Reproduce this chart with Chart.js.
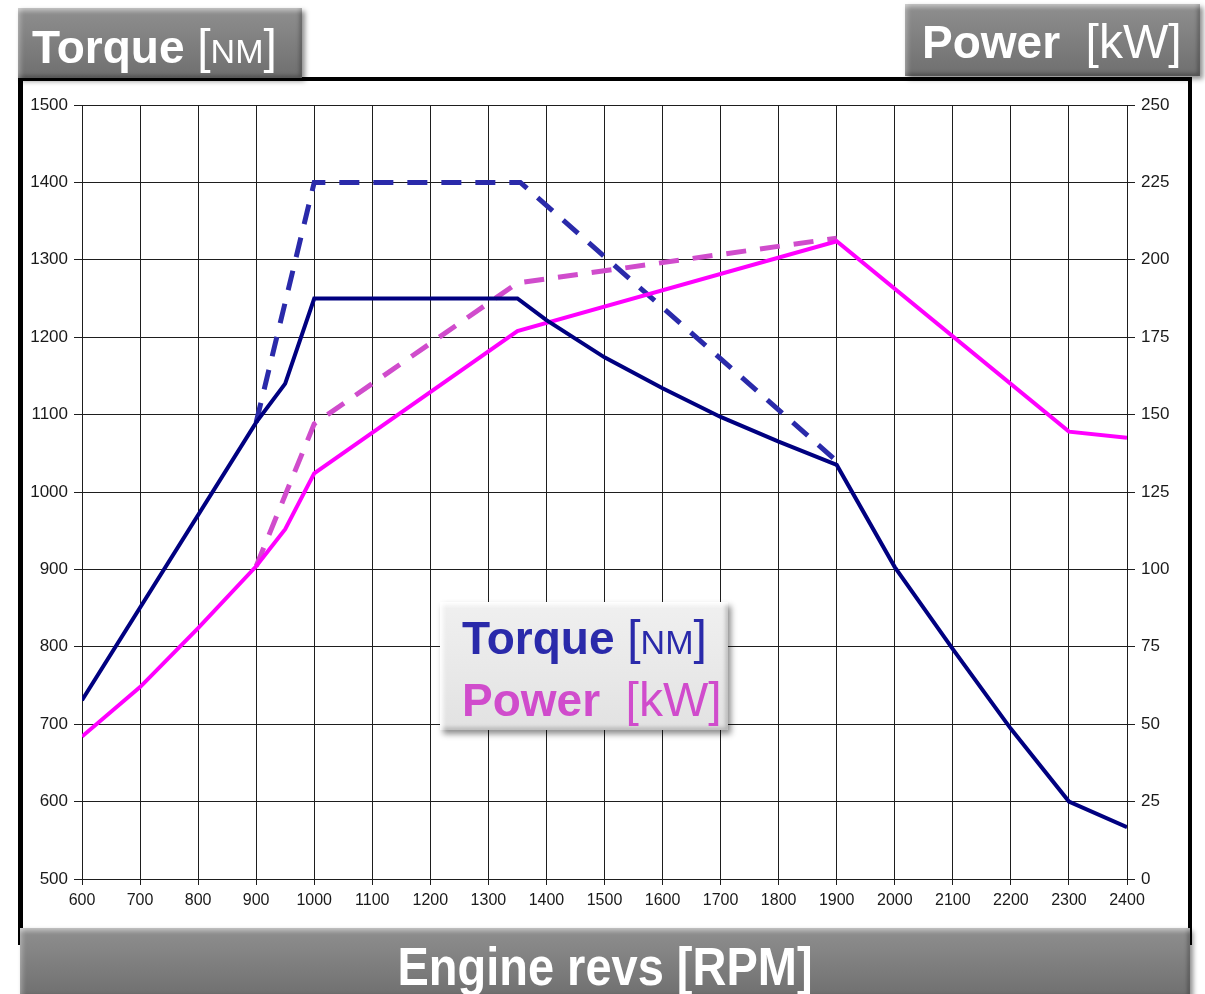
<!DOCTYPE html>
<html lang="en">

<head>
    <meta charset="UTF-8" />
    <title>Torque / Power</title>
    <script src="https://cdn.jsdelivr.net/npm/chart.js@4/dist/chart.umd.min.js"></script>
    <style>
        body { margin: 0; width: 1205px; height: 994px; overflow: hidden; background: #fff; position: relative; font-family: "Liberation Sans", Arial, sans-serif; }
        #frame { position: absolute; left: 18px; top: 77px; width: 1165px; height: 860px; border: 4px solid #000; border-left-width: 5px; }
        #chart { position: absolute; left: 0; top: 0; }
        .box {
            position: absolute;
            background: linear-gradient(#8f8f8f, #6f6f6f);
            box-shadow: inset 0 5px 4px -2px rgba(255,255,255,0.45), inset 5px 0 4px -2px rgba(255,255,255,0.25),
                        inset -4px -4px 4px -2px rgba(0,0,0,0.35), 3px 3px 5px rgba(0,0,0,0.45);
            color: #fff;
            white-space: pre;
        }
        .box .t { position: absolute; line-height: 1; font-size: 46px; }
        .b { font-weight: bold; }
        .sm { font-size: 34px; }
        .br { font-size: 48px; }
        #legend { background: linear-gradient(#f0f0f0, #e2e2e2); box-shadow: inset 0 5px 4px -2px #fff, inset 5px 0 4px -2px #fff,
                  inset -4px -4px 4px -2px rgba(0,0,0,0.25), 3px 4px 6px rgba(0,0,0,0.45); }
    </style>
</head>

<body>
    <div id="frame"></div>
    <canvas id="chart" width="1205" height="994"></canvas>

    <div class="box" style="left:18px; top:8px; width:284px; height:70px;">
        <div class="t" style="left:14px; top:15px;"><span class="b">Torque</span> <span class="br">[<span class="sm">NM</span>]</span></div>
    </div>
    <div class="box" style="left:905px; top:4px; width:295px; height:72px;">
        <div class="t" style="left:17px; top:14px;"><span class="b">Power</span>  <span class="br">[kW]</span></div>
    </div>
    <div class="box" id="legend" style="left:440px; top:602px; width:288px; height:128px;">
        <div class="t" style="left:22px; top:12px; color:#2a2aaa;"><span class="b">Torque</span> <span class="br">[<span class="sm">NM</span>]</span></div>
        <div class="t" style="left:22px; top:74px; color:#d04ccc;"><span class="b">Power</span>  <span class="br">[kW]</span></div>
    </div>
    <div class="box" style="left:20px; top:928px; width:1170px; height:70px;">
        <div class="t b" style="left:0; width:1170px; top:11px; text-align:center; font-size:54px; transform:scaleX(0.87);">Engine revs [RPM]</div>
    </div>

    <script>
        // torque, Nm (left axis)
        var torqueRpm = [600, 900, 950, 1000, 1350, 1400, 1500, 1600, 1700, 1800, 1900, 2000, 2100, 2200, 2300, 2400];
        var torque = [731, 1090, 1140, 1250, 1250, 1222, 1174, 1134, 1097, 1065, 1035, 903, 797, 694, 600, 567];

        var torqueMaxRpm = [900, 1000, 1355, 1900];
        var torqueMax = [1090, 1400, 1400, 1040];

        // power, kW (right axis)
        var powerRpm = [600, 700, 800, 900, 950, 1000, 1350, 1900, 2300, 2400];
        var power = [46, 62, 81, 101, 113, 131, 177, 206, 144.5, 142.5];

        var powerMaxRpm = [900, 1000, 1350, 1900];
        var powerMax = [101, 147, 192.5, 207];

        var rpmTicks = { min: 600, max: 2400, step: 100 };

        function pts(xs, ys) {
            return xs.map(function (x, i) { return { x: x, y: ys[i] }; });
        }
        function plain(v) { return String(v); }

        var tickFont = { family: 'Liberation Sans', size: 17 };
        var gridColor = '#1e1e1e';

        var ctx = document.getElementById('chart').getContext('2d');
        var chart = new Chart(ctx, {
            type: 'line',
            data: {
                datasets: [
                    { label: 'Torque max', data: pts(torqueMaxRpm, torqueMax), yAxisID: 'y', borderColor: '#2a2aaa', borderDash: [20, 14], borderWidth: 5, pointRadius: 0, order: 3 },
                    { label: 'Power max', data: pts(powerMaxRpm, powerMax), yAxisID: 'y1', borderColor: '#d04ccc', borderDash: [20, 14], borderWidth: 5, pointRadius: 0, order: 4 },
                    { label: 'Torque', data: pts(torqueRpm, torque), yAxisID: 'y', borderColor: '#000080', borderWidth: 4, pointRadius: 0, order: 1 },
                    { label: 'Power', data: pts(powerRpm, power), yAxisID: 'y1', borderColor: '#ff00ff', borderWidth: 4, pointRadius: 0, order: 2 }
                ]
            },
            options: {
                responsive: false,
                animation: false,
                devicePixelRatio: 1,
                layout: { padding: { top: 105, left: 0, right: 0, bottom: 0 } },
                elements: { line: { tension: 0, borderCapStyle: 'butt' } },
                plugins: { legend: { display: false }, tooltip: { enabled: false } },
                scales: {
                    x: {
                        type: 'linear', min: rpmTicks.min, max: rpmTicks.max,
                        ticks: { stepSize: rpmTicks.step, font: { family: 'Liberation Sans', size: 16 }, color: '#1a1a1a', padding: 6, maxRotation: 0, callback: plain },
                        grid: { color: gridColor, lineWidth: 1, tickLength: 6 },
                        border: { color: gridColor },
                        afterFit: function (s) { s.height = 115; }
                    },
                    y: {
                        position: 'left', min: 500, max: 1500,
                        ticks: { stepSize: 100, font: tickFont, color: '#1a1a1a', padding: 6, callback: plain },
                        grid: { color: gridColor, lineWidth: 1, tickLength: 8 },
                        border: { color: gridColor },
                        afterFit: function (s) { s.width = 82; }
                    },
                    y1: {
                        position: 'right', min: 0, max: 250,
                        ticks: { stepSize: 25, font: tickFont, color: '#1a1a1a', padding: 6, callback: plain },
                        grid: { drawOnChartArea: false, color: gridColor, tickLength: 8 },
                        border: { color: gridColor },
                        afterFit: function (s) { s.width = 78; }
                    }
                }
            }
        });
    </script>
</body>

</html>
